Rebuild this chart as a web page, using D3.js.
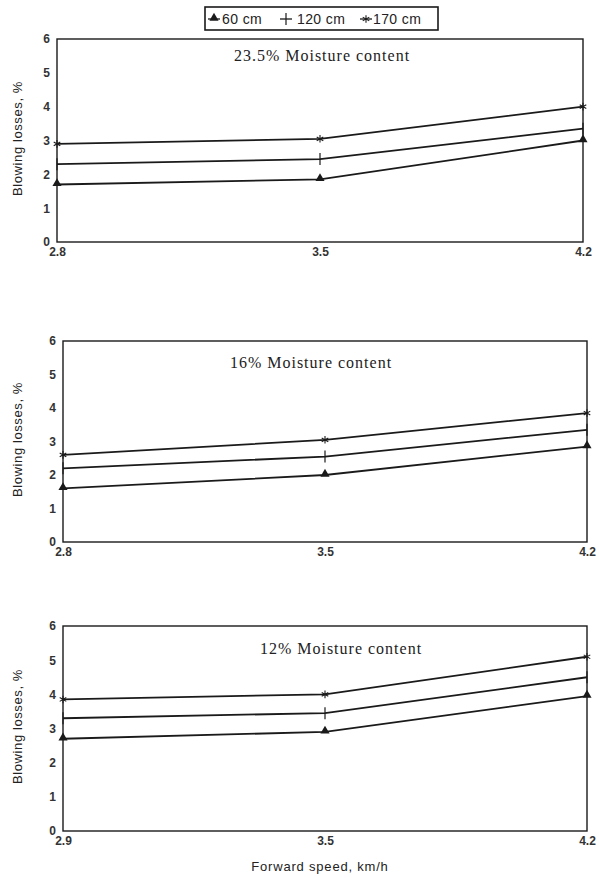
<!DOCTYPE html>
<html>
<head>
<meta charset="utf-8">
<script src="https://cdn.jsdelivr.net/npm/d3@7"></script>
<style>
body { margin: 0; background: #fff; }
</style>
</head>
<body>
<script>
var width = 599;
var height = 878;

// data
var seriesNames = ["60 cm", "120 cm", "170 cm"];
var panelTitles = ["23.5% Moisture content", "16% Moisture content", "12% Moisture content"];
var speedLabels1 = ["2.8", "3.5", "4.2"];
var speedLabels2 = ["2.8", "3.5", "4.2"];
var speedLabels3 = ["2.9", "3.5", "4.2"];
var yTicks = [0, 1, 2, 3, 4, 5, 6];

var mc235_60 = [1.7, 1.85, 3.0];
var mc235_120 = [2.3, 2.45, 3.35];
var mc235_170 = [2.9, 3.05, 4.0];

var mc16_60 = [1.6, 2.0, 2.85];
var mc16_120 = [2.2, 2.55, 3.35];
var mc16_170 = [2.6, 3.05, 3.85];

var mc12_60 = [2.7, 2.9, 3.95];
var mc12_120 = [3.3, 3.45, 4.5];
var mc12_170 = [3.85, 4.0, 5.1];

var panels = [
    { title: panelTitles[0], labels: speedLabels1, series: [mc235_60, mc235_120, mc235_170],
      left: 57, right: 583, top: 39, bottom: 242, titleX: 322, titleY: 61 },
    { title: panelTitles[1], labels: speedLabels2, series: [mc16_60, mc16_120, mc16_170],
      left: 63, right: 587, top: 341, bottom: 542, titleX: 311, titleY: 368 },
    { title: panelTitles[2], labels: speedLabels3, series: [mc12_60, mc12_120, mc12_170],
      left: 63, right: 587, top: 626, bottom: 831, titleX: 341, titleY: 654 }
];

var ink = "#1a1a1a";

var svg = d3.select("body").append("svg")
    .attr("width", width)
    .attr("height", height)
    .style("font-family", "Liberation Sans, Arial, sans-serif");

function drawMarker(g, type, x, y) {
    if (type === 0) {
        g.append("path")
            .attr("d", d3.symbol().type(d3.symbolTriangle).size(36)())
            .attr("transform", "translate(" + x + "," + (y - 1) + ")")
            .attr("fill", ink);
    } else if (type === 1) {
        g.append("line")
            .attr("x1", x).attr("x2", x)
            .attr("y1", y - 6).attr("y2", y + 6)
            .attr("stroke", ink).attr("stroke-width", 1.2);
    } else {
        g.append("path")
            .attr("d", d3.symbol().type(d3.symbolAsterisk).size(40)())
            .attr("transform", "translate(" + x + "," + y + ")")
            .attr("fill", "none")
            .attr("stroke", ink)
            .attr("stroke-width", 1.1);
    }
}

panels.forEach(function (p) {
    var g = svg.append("g");

    var xScale = d3.scalePoint().domain(p.labels).range([p.left, p.right]);
    var yScale = d3.scaleLinear().domain([0, 6]).range([p.bottom, p.top]);

    // frame
    g.append("rect")
        .attr("x", p.left)
        .attr("y", p.top)
        .attr("width", p.right - p.left)
        .attr("height", p.bottom - p.top)
        .attr("fill", "none")
        .attr("stroke", ink)
        .attr("stroke-width", 1.4);

    // y axis labels
    var yAxis = d3.axisLeft(yScale).tickValues(yTicks).tickFormat(d3.format("d"))
        .tickSize(0).tickPadding(7);
    g.append("g")
        .attr("transform", "translate(" + p.left + ",0)")
        .call(yAxis)
        .call(function (a) { a.select(".domain").remove(); })
        .selectAll("text")
        .attr("font-size", 12)
        .attr("font-weight", "bold")
        .attr("fill", "#333")
        .attr("font-family", "Liberation Sans, Arial, sans-serif");

    // x axis labels
    var xAxis = d3.axisBottom(xScale).tickSize(0).tickPadding(5);
    g.append("g")
        .attr("transform", "translate(0," + p.bottom + ")")
        .call(xAxis)
        .call(function (a) { a.select(".domain").remove(); })
        .selectAll("text")
        .attr("font-size", 12)
        .attr("font-weight", "bold")
        .attr("fill", "#333")
        .attr("font-family", "Liberation Sans, Arial, sans-serif");

    // y title
    g.append("text")
        .attr("transform", "translate(22," + ((p.top + p.bottom) / 2 - 2) + ") rotate(-90)")
        .attr("text-anchor", "middle")
        .attr("font-size", 13)
        .attr("letter-spacing", 0.6)
        .attr("fill", "#222")
        .text("Blowing losses, %");

    // panel title
    g.append("text")
        .attr("x", p.titleX)
        .attr("y", p.titleY)
        .attr("text-anchor", "middle")
        .attr("font-family", "Liberation Serif, Times New Roman, serif")
        .attr("font-size", 16)
        .attr("letter-spacing", 1)
        .attr("fill", "#222")
        .text(p.title);

    var line = d3.line()
        .x(function (d, i) { return xScale(p.labels[i]); })
        .y(function (d) { return yScale(d); });

    p.series.forEach(function (vals, si) {
        g.append("path")
            .datum(vals)
            .attr("fill", "none")
            .attr("stroke", ink)
            .attr("stroke-width", 1.8)
            .attr("d", line);
        vals.forEach(function (v, i) {
            drawMarker(g, si, xScale(p.labels[i]), yScale(v));
        });
    });
});

// x axis title
svg.append("text")
    .attr("x", 320)
    .attr("y", 871)
    .attr("text-anchor", "middle")
    .attr("font-size", 13)
    .attr("letter-spacing", 0.8)
    .attr("fill", "#222")
    .text("Forward speed, km/h");

// legend
var legend = svg.append("g");
legend.append("rect")
    .attr("x", 205).attr("y", 7)
    .attr("width", 233).attr("height", 23)
    .attr("fill", "#fff")
    .attr("stroke", ink)
    .attr("stroke-width", 1.6);

var legendMarkX = [214, 286, 366];
var legendTextX = [222, 297, 373];
seriesNames.forEach(function (name, i) {
    var lx = legendMarkX[i];
    legend.append("line")
        .attr("x1", lx - 6).attr("x2", lx + 6)
        .attr("y1", 19).attr("y2", 19)
        .attr("stroke", ink).attr("stroke-width", 1.3);
    drawMarker(legend, i, lx, 19);
    legend.append("text")
        .attr("x", legendTextX[i])
        .attr("y", 24)
        .attr("font-size", 14)
        .attr("letter-spacing", 0.4)
        .attr("fill", "#222")
        .text(name);
});
</script>
</body>
</html>
